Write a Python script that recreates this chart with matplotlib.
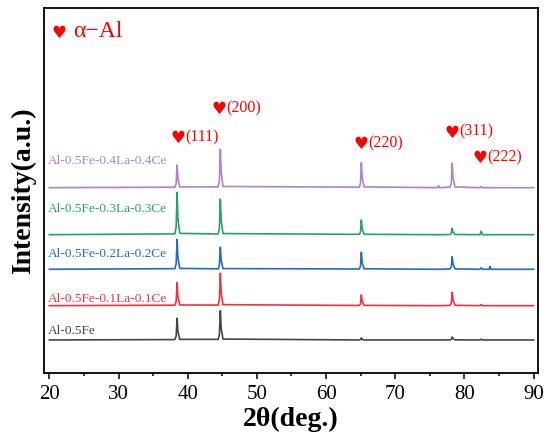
import matplotlib
matplotlib.use("Agg")
import matplotlib.pyplot as plt
from matplotlib.ticker import MultipleLocator

plt.rcParams['font.family'] = ['Liberation Serif', 'DejaVu Sans']

# 2theta grid (deg) around the alpha-Al peaks
two_theta = [20.0,
             38.15, 38.33, 38.47, 38.58, 38.85,
             44.40, 44.58, 44.72, 44.84, 45.10,
             64.80, 64.98, 65.10, 65.22, 65.50,
             76.10, 76.25, 76.40,
             77.90, 78.10, 78.23, 78.36, 78.65,
             82.25, 82.42, 82.60,
             83.58, 83.70, 83.82,
             90.0]

# intensity above each pattern's own baseline (a.u.)
i_fe = [0,
        0.4, 3.9, 21.7, 8.7, 0.6,
        0.6, 5.3, 29.3, 11.7, 0.9,
        0, 0.4, 2.0, 0.8, 0,
        0, 0, 0,
        0.1, 0.5, 3.0, 1.2, 0.1,
        0, 0.8, 0,
        0, 0, 0,
        0]
i_01 = [0,
        0.5, 4.1, 23.0, 9.2, 0.7,
        0.6, 5.8, 32.4, 13.0, 1.0,
        0.2, 1.9, 10.7, 4.3, 0.3,
        0, 0, 0,
        0.3, 2.4, 13.4, 5.4, 0.4,
        0, 1.2, 0,
        0, 0, 0,
        0]
i_02 = [0,
        0.6, 5.4, 30.0, 12.0, 0.9,
        0.4, 4.0, 22.0, 8.8, 0.7,
        0.3, 3.1, 17.0, 6.8, 0.5,
        0, 0, 0,
        0.3, 2.3, 12.6, 5.0, 0.4,
        0, 1.5, 0,
        0, 2.8, 0,
        0]
i_03 = [0,
        0.8, 7.6, 42.4, 17.0, 1.3,
        0.7, 6.4, 35.4, 14.2, 1.1,
        0.3, 2.6, 14.7, 5.9, 0.4,
        0, 0, 0,
        0.1, 1.2, 6.4, 2.6, 0.2,
        0, 3.5, 0,
        0, 0, 0,
        0]
i_04 = [0,
        0.5, 4.1, 22.7, 9.1, 0.7,
        0.8, 6.9, 38.4, 15.4, 1.2,
        0.5, 4.5, 25.0, 10.0, 0.8,
        0, 2.0, 0,
        0.5, 4.4, 24.4, 9.8, 0.7,
        0, 1.0, 0,
        0, 0, 0,
        0]

names = ['Al-0.5Fe', 'Al-0.5Fe-0.1La-0.1Ce', 'Al-0.5Fe-0.2La-0.2Ce',
         'Al-0.5Fe-0.3La-0.3Ce', 'Al-0.5Fe-0.4La-0.4Ce']
offsets = [33, 67.3, 103.7, 138.3, 185.3]
label_y = [42, 74.3, 118.5, 164, 212]
colors = ['#454545', '#f2313f', '#1f6cc4', '#25a362', '#ad80d6']
series = [i_fe, i_01, i_02, i_03, i_04]

# peak annotations: (label, x, y)
peak_labels = ['(111)', '(200)', '(220)', '(311)', '(222)']
peak_x = [37.73, 43.66, 64.18, 77.33, 81.37]
peak_y = [236, 265, 230, 241.3, 216]

fig = plt.figure(figsize=(5.5, 4.44), dpi=100)
ax = fig.add_axes([0.08, 0.16, 0.898, 0.822])

for s, off, c in zip(series, offsets, colors):
    ax.plot(two_theta, [v + off for v in s], color=c, lw=1.2)

for n, ly, c in zip(names, label_y, colors):
    ax.text(19.85, ly, n, color=c, fontsize=9.6, ha='left', va='center')

for lab, px, py in zip(peak_labels, peak_x, peak_y):
    ax.text(px - 0.15, py - 1, '\u2665', color='red', fontsize=12,
            family='DejaVu Sans', ha='left', va='center')
    ax.text(px + 1.95, py, lab, color='red', fontsize=11.5,
            ha='left', va='center')

ax.text(20.3, 340, '\u2665', color='red', fontsize=12, family='DejaVu Sans',
        ha='left', va='center')
ax.text(23.5, 341, '\u03b1\u2212Al', color='red', fontsize=17,
        ha='left', va='center')

ax.set_xlim(19.23, 90.62)
ax.set_ylim(0, 365)
ax.xaxis.set_major_locator(MultipleLocator(10))
ax.xaxis.set_minor_locator(MultipleLocator(5))
ax.set_yticks([])
ax.tick_params(axis='x', which='major', direction='out', length=4.5,
               width=1.1, labelsize=15, pad=4)
ax.tick_params(axis='x', which='minor', direction='out', length=2.5,
               width=1.1)
for sp in ax.spines.values():
    sp.set_linewidth(1.3)

ax.set_xlabel('2\u03b8(deg.)', fontsize=20, fontweight='bold', labelpad=2)
ax.set_ylabel('Intensity(a.u.)', fontsize=20, fontweight='bold', labelpad=6)

fig.savefig('out.png', dpi=100)
